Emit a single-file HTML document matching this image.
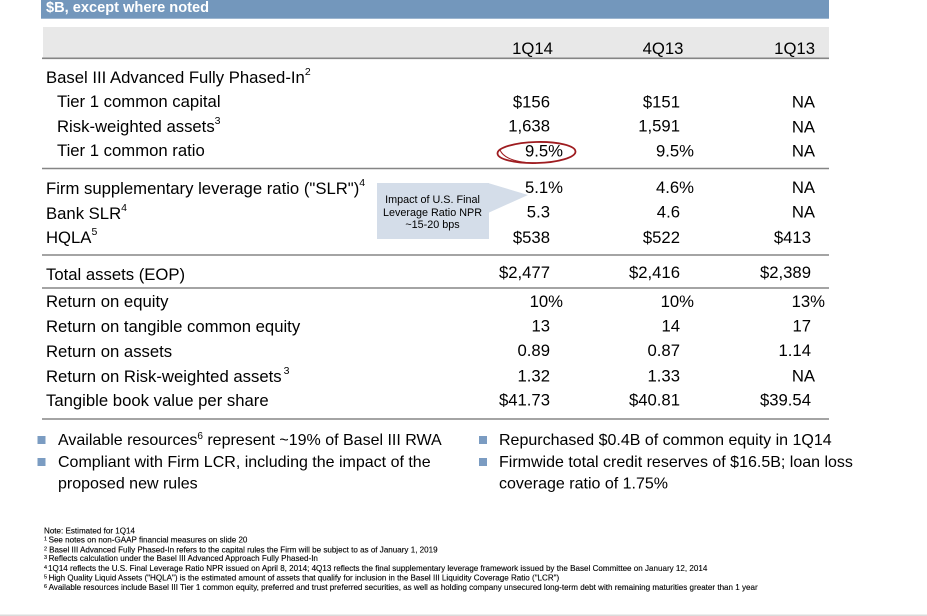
<!DOCTYPE html>
<html>
<head>
<meta charset="utf-8">
<style>
  html,body{margin:0;padding:0;background:#fff;}
  body{width:927px;height:616px;overflow:hidden;}
  svg{display:block;font-family:"Liberation Sans",Arial,sans-serif;}
</style>
</head>
<body>
<svg width="927" height="616" viewBox="0 0 927 616" xmlns="http://www.w3.org/2000/svg">
  <!-- header bar -->
  <rect x="41" y="0" width="788" height="18.7" fill="#7397bc"/>
  <text x="46" y="12" font-size="14.6" font-weight="bold" fill="#ffffff">$B, except where noted</text>

  <!-- column header band -->
  <rect x="43" y="27" width="786" height="30.5" fill="#e8e8e8"/>
  <g font-size="16.7" fill="#000">
    <text x="532.5" y="54" text-anchor="middle">1Q14</text>
    <text x="663" y="54" text-anchor="middle">4Q13</text>
    <text x="815" y="54" text-anchor="end">1Q13</text>
  </g>

  <!-- separator lines -->
  <g stroke="#858585" stroke-width="1.6">
    <line x1="42" y1="58.3" x2="829" y2="58.3"/>
    <line x1="42" y1="168.5" x2="829" y2="168.5"/>
    <line x1="42" y1="255" x2="829" y2="255"/>
    <line x1="42" y1="288" x2="829" y2="288"/>
    <line x1="42" y1="419" x2="829" y2="419"/>
  </g>

  <!-- row labels -->
  <g font-size="16.7" fill="#000">
    <text x="46" y="83">Basel III Advanced Fully Phased-In<tspan font-size="10.5" dy="-8">2</tspan></text>
    <text x="57" y="107">Tier 1 common capital</text>
    <text x="57" y="132">Risk-weighted assets<tspan font-size="10.5" dy="-8">3</tspan></text>
    <text x="57" y="156">Tier 1 common ratio</text>

    <text x="46" y="194">Firm supplementary leverage ratio ("SLR")<tspan font-size="10.5" dy="-8">4</tspan></text>
    <text x="46" y="219">Bank SLR<tspan font-size="10.5" dy="-8">4</tspan></text>
    <text x="46" y="243">HQLA<tspan font-size="10.5" dy="-8">5</tspan></text>

    <text x="46" y="280">Total assets (EOP)</text>

    <text x="46" y="307">Return on equity</text>
    <text x="46" y="332">Return on tangible common equity</text>
    <text x="46" y="357">Return on assets</text>
    <text x="46" y="382">Return on Risk-weighted assets<tspan font-size="10.5" dy="-8" dx="2">3</tspan></text>
    <text x="46" y="406">Tangible book value per share</text>
  </g>

  <!-- values -->
  <g font-size="16.7" fill="#000" text-anchor="end">
    <text x="550" y="107.5">$156</text>
    <text x="680" y="107.5">$151</text>
    <text x="815" y="107.5">NA</text>
    <text x="550" y="131.5">1,638</text>
    <text x="680" y="131.5">1,591</text>
    <text x="815" y="132.5">NA</text>
    <text x="563" y="156.5">9.5%</text>
    <text x="694" y="156.5">9.5%</text>
    <text x="815" y="156.5">NA</text>

    <text x="563" y="193">5.1%</text>
    <text x="694" y="193">4.6%</text>
    <text x="815" y="193">NA</text>
    <text x="550" y="217.5">5.3</text>
    <text x="680" y="217.5">4.6</text>
    <text x="815" y="217.5">NA</text>
    <text x="550" y="243">$538</text>
    <text x="680" y="243">$522</text>
    <text x="811" y="243">$413</text>

    <text x="550" y="278">$2,477</text>
    <text x="680" y="278">$2,416</text>
    <text x="811" y="278">$2,389</text>

    <text x="563" y="307">10%</text>
    <text x="694" y="307">10%</text>
    <text x="825" y="307">13%</text>
    <text x="550" y="331.7">13</text>
    <text x="680" y="331.7">14</text>
    <text x="811" y="331.7">17</text>
    <text x="550" y="356">0.89</text>
    <text x="680" y="356">0.87</text>
    <text x="811" y="356">1.14</text>
    <text x="550" y="381.7">1.32</text>
    <text x="680" y="381.7">1.33</text>
    <text x="815" y="381.7">NA</text>
    <text x="550" y="405.7">$41.73</text>
    <text x="680" y="405.7">$40.81</text>
    <text x="811" y="405.7">$39.54</text>
  </g>

  <!-- red oval -->
  <ellipse cx="536.5" cy="152.5" rx="39" ry="10.5" fill="none" stroke="#9e1c20" stroke-width="1.8" transform="rotate(-1.5 536.5 152.5)"/>
  <path d="M500 150 Q505 162 536 163.3" fill="none" stroke="#9e1c20" stroke-width="1"/>

  <!-- callout -->
  <rect x="377" y="183" width="112" height="56" fill="#d4dde9"/>
  <polygon points="488,183 528,195 488,213" fill="#d4dde9"/>
  <g font-size="10.8" fill="#000" text-anchor="middle">
    <text x="432.5" y="203">Impact of U.S. Final</text>
    <text x="432.5" y="216">Leverage Ratio NPR</text>
    <text x="432.5" y="228">~15-20 bps</text>
  </g>

  <!-- bullets -->
  <g fill="#7b9cc2">
    <rect x="37.5" y="436" width="8" height="8"/>
    <rect x="37.5" y="458" width="8" height="8"/>
    <rect x="479" y="436" width="8" height="8"/>
    <rect x="479" y="458" width="8" height="8"/>
  </g>
  <g font-size="16" fill="#000">
    <text x="58" y="445">Available resources<tspan font-size="10" dy="-6">6</tspan><tspan dy="6"> represent ~19% of Basel III RWA</tspan></text>
    <text x="58" y="467">Compliant with Firm LCR, including the impact of the</text>
    <text x="58" y="488.5">proposed new rules</text>
    <text x="499" y="445">Repurchased $0.4B of common equity in 1Q14</text>
    <text x="499" y="467">Firmwide total credit reserves of $16.5B; loan loss</text>
    <text x="499" y="488.5">coverage ratio of 1.75%</text>
  </g>

  <!-- footnotes -->
  <g font-size="8.07" fill="#000" stroke="#000" stroke-width="0.12">
    <text x="44" y="533.3">Note: Estimated for 1Q14</text>
    <text x="44" y="542.7"><tspan font-size="5.5" dy="-2">1</tspan><tspan dy="2" dx="1.5">See notes on non-GAAP financial measures on slide 20</tspan></text>
    <text x="44" y="552.3"><tspan font-size="5.5" dy="-2">2</tspan><tspan dy="2" dx="2">Basel III Advanced Fully Phased-In refers to the capital rules the Firm will be subject to as of January 1, 2019</tspan></text>
    <text x="44" y="561"><tspan font-size="5.5" dy="-2">3</tspan><tspan dy="2" dx="1.5">Reflects calculation under the Basel III Advanced Approach Fully Phased-In</tspan></text>
    <text x="44" y="571"><tspan font-size="5.5" dy="-2">4</tspan><tspan dy="2" dx="1">1Q14 reflects the U.S. Final Leverage Ratio NPR issued on April 8, 2014; 4Q13 reflects the final supplementary leverage framework issued by the Basel Committee on January 12, 2014</tspan></text>
    <text x="44" y="580.7"><tspan font-size="5.5" dy="-2">5</tspan><tspan dy="2" dx="1.5">High Quality Liquid Assets ("HQLA") is the estimated amount of assets that qualify for inclusion in the Basel III Liquidity Coverage Ratio ("LCR")</tspan></text>
    <text x="44" y="590"><tspan font-size="5.5" dy="-2">6</tspan><tspan dy="2" dx="1.5">Available resources include Basel III Tier 1 common equity, preferred and trust preferred securities, as well as holding company unsecured long-term debt with remaining maturities greater than 1 year</tspan></text>
  </g>

  <!-- bottom rule -->
  <line x1="0" y1="615.2" x2="927" y2="615.2" stroke="#cfcfcf" stroke-width="1.2"/>
</svg>
</body>
</html>
